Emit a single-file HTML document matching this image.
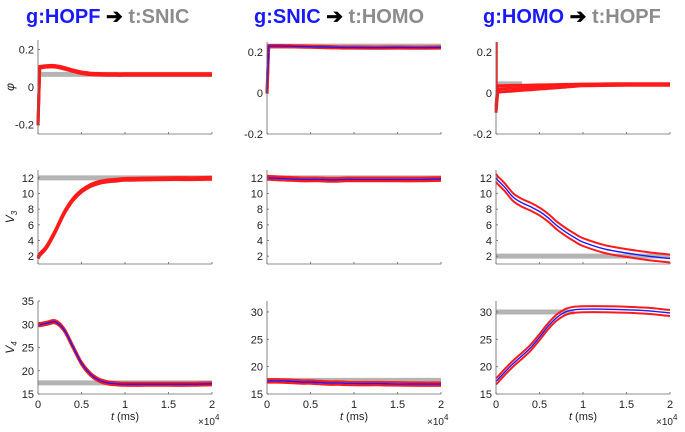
<!DOCTYPE html>
<html><head><meta charset="utf-8"><style>
body{margin:0;background:#fff;width:685px;height:427px;overflow:hidden}
svg text{font-family:"Liberation Sans",sans-serif}
</style></head><body>
<svg id="chart" width="685" height="427" viewBox="0 0 685 427" xmlns="http://www.w3.org/2000/svg">
<g font-size="20" font-weight="bold">
<text x="26" y="23"><tspan fill="#1a1aff">g:HOPF</tspan><tspan fill="#000"> ➔ </tspan><tspan fill="#8c8c8c">t:SNIC</tspan></text>
<text x="254" y="23"><tspan fill="#1a1aff">g:SNIC</tspan><tspan fill="#000"> ➔ </tspan><tspan fill="#8c8c8c">t:HOMO</tspan></text>
<text x="483" y="23"><tspan fill="#1a1aff">g:HOMO</tspan><tspan fill="#000"> ➔ </tspan><tspan fill="#8c8c8c">t:HOPF</tspan></text>
</g>
</svg>
<script>
const T = [0,0.02,0.1,0.2,0.3,0.4,0.5,0.6,0.7,0.8,0.9,1.0,1.25,1.5,1.75,2.0];
const phi1 = [-0.2,0.105,0.11,0.11,0.1,0.087,0.076,0.07,0.068,0.067,0.066,0.066,0.066,0.066,0.066,0.066];
const phi2 = [0,0.23,0.23,0.23,0.229,0.228,0.227,0.226,0.225,0.224,0.223,0.223,0.222,0.223,0.222,0.223];
const phi3 = [-0.08,0.02,0.022,0.024,0.026,0.028,0.03,0.032,0.034,0.036,0.038,0.04,0.041,0.042,0.042,0.042];
const phi3Spike = [-0.08,0.25];
const v3a = [1.8,2.2,3.2,5.2,7.5,9.2,10.3,11.0,11.4,11.6,11.7,11.8,11.85,11.9,11.9,11.95];
const v3b = [12,12,11.95,11.9,11.85,11.8,11.8,11.8,11.75,11.75,11.8,11.8,11.8,11.8,11.8,11.85];
const v3c = [12,11.7,10.8,9.5,8.8,8.3,7.7,6.9,5.9,5.1,4.4,3.8,2.9,2.4,2.0,1.7];
const v4a = [30,29.9,30.2,30.5,28.8,25.2,21.6,19.3,18.0,17.4,17.2,17.1,17.1,17.1,17.1,17.2];
const v4b = [17.4,17.4,17.4,17.35,17.3,17.2,17.2,17.1,17.0,17.0,16.95,16.9,16.9,16.85,16.8,16.8];
const v4c = [17.3,17.6,19.0,20.6,22.0,23.5,25.4,27.4,29.0,30.0,30.4,30.5,30.5,30.4,30.2,29.8];
const xTicks = [0,0.5,1,1.5,2];
const xTickLabels = ["0","0.5","1","1.5","2"];

const svg = document.getElementById('chart');
const NS = 'http://www.w3.org/2000/svg';
function mk(tag, attrs, parent){const e=document.createElementNS(NS,tag);for(const k in attrs)e.setAttribute(k,attrs[k]);(parent||svg).appendChild(e);return e;}

const cols=[{x0:38,x1:212},{x0:267,x1:441},{x0:496,x1:670}];
const rows=[
 {ylab:'φ', panels:[
   {ymin:-0.25,ymax:0.25,top:40,bot:134,ticks:[-0.2,0,0.2],labels:['-0.2','0','0.2'],data:phi1,ref:0.067,refEnd:2,hw:0.004,sw:3,hideBlue:true},
   {ymin:-0.2,ymax:0.25,top:42,bot:134,ticks:[-0.2,0,0.2],labels:['-0.2','0','0.2'],data:phi2,ref:0.23,refEnd:2,hw:0.003,sw:3},
   {ymin:-0.2,ymax:0.25,top:42,bot:134,ticks:[-0.2,0,0.2],labels:['-0.2','0','0.2'],data:phi3,ref:0.045,refEnd:0.3,hw:0.004,sw:3,noisy:true,hideBlue:true}]},
 {ylab:'V', sub:'3', panels:[
   {ymin:1,ymax:13,top:170,bot:264,ticks:[2,4,6,8,10,12],labels:['2','4','6','8','10','12'],data:v3a,ref:12,refEnd:2,hw:0.12,sw:3,hideBlue:true},
   {ymin:1,ymax:13,top:170,bot:264,ticks:[2,4,6,8,10,12],labels:['2','4','6','8','10','12'],data:v3b,ref:12,refEnd:2,hw:0.22,sw:2.4},
   {ymin:1,ymax:13,top:170,bot:264,ticks:[2,4,6,8,10,12],labels:['2','4','6','8','10','12'],data:v3c,ref:2,refEnd:2,hw:0.5,sw:2}]},
 {ylab:'V', sub:'4', panels:[
   {ymin:15,ymax:35,top:301,bot:394,ticks:[15,20,25,30,35],labels:['15','20','25','30','35'],data:v4a,ref:17.4,refEnd:2,hw:0.3,sw:2.4},
   {ymin:15,ymax:32,top:301,bot:394,ticks:[15,20,25,30],labels:['15','20','25','30'],data:v4b,ref:17.5,refEnd:2,hw:0.3,sw:2.2},
   {ymin:15,ymax:32,top:301,bot:394,ticks:[15,20,25,30],labels:['15','20','25','30'],data:v4c,ref:30,refEnd:0.9,hw:0.55,sw:2}]}
];

function smooth(pts){
  let d='M'+pts[0][0].toFixed(1)+','+pts[0][1].toFixed(1)+'L'+pts[1][0].toFixed(1)+','+pts[1][1].toFixed(1);
  for(let i=1;i<pts.length-1;i++){
    const p0=pts[Math.max(i-1,1)],p1=pts[i],p2=pts[i+1],p3=pts[Math.min(i+2,pts.length-1)];
    const c1=[p1[0]+(p2[0]-p0[0])/6,p1[1]+(p2[1]-p0[1])/6];
    const c2=[p2[0]-(p3[0]-p1[0])/6,p2[1]-(p3[1]-p1[1])/6];
    d+='C'+c1[0].toFixed(1)+','+c1[1].toFixed(1)+' '+c2[0].toFixed(1)+','+c2[1].toFixed(1)+' '+p2[0].toFixed(1)+','+p2[1].toFixed(1);
  }
  return d;
}

rows.forEach((row,ri)=>{
  row.panels.forEach((p,ci)=>{
    const c=cols[ci];
    const g=mk('g',{});
    
    
    const xs=v=>c.x0+(v/2)*(c.x1-c.x0);
    const ys=v=>p.bot-(v-p.ymin)/(p.ymax-p.ymin)*(p.bot-p.top);
    const hwAt=(i)=>p.noisy? p.hw*(1+3*Math.max(0,1-T[i])) : p.hw;
    const line=(arr,sgn)=>smooth(T.map((t,i)=>[xs(t),ys(arr[i]+sgn*hwAt(i))]));
    const ref=mk('line',{x1:xs(0),x2:xs(p.refEnd),y1:ys(p.ref),y2:ys(p.ref),stroke:'#b4b4b4','stroke-width':5},g);
    
    
    if(p.noisy){
      const sp=mk('line',{x1:xs(0)+1,x2:xs(0)+1,y1:ys(phi3Spike[0]),y2:ys(phi3Spike[1]),stroke:'#ff1a1a','stroke-width':1.5},g);
      
      
    }
    const mean=mk('path',{d:line(p.data,0),fill:'none',stroke:'#1a1aff','stroke-width':1.4},g);
    
    
    const up=mk('path',{d:line(p.data,1),fill:'none',stroke:'#ff1a1a','stroke-width':p.sw,'stroke-linejoin':'round'},g);
    
    
    const lo=mk('path',{d:line(p.data,-1),fill:'none',stroke:'#ff1a1a','stroke-width':p.sw,'stroke-linejoin':'round'},g);
    
    
    if(!p.hideBlue){ g.appendChild(mean); }
    else { mean.setAttribute('stroke','#ff1a1a'); mean.setAttribute('stroke-width',3); }
    const ya=mk('line',{x1:c.x0,x2:c.x0,y1:p.top,y2:p.bot,stroke:'#666','stroke-width':0.8},g);
    
    
    const xa=mk('line',{x1:c.x0,x2:c.x1,y1:p.bot,y2:p.bot,stroke:'#666','stroke-width':0.8},g);
    
    
    p.ticks.forEach((tv,i)=>{
      mk('line',{x1:c.x0,x2:c.x0+2,y1:ys(tv),y2:ys(tv),stroke:'#666','stroke-width':0.8},g);
      const tl=mk('text',{x:c.x0-4,y:ys(tv)+4,'text-anchor':'end','font-size':11,fill:'#222'},g);
      tl.textContent=p.labels[i];
      
      
    });
    xTicks.forEach((tv,i)=>{
      mk('line',{x1:xs(tv),x2:xs(tv),y1:p.bot,y2:p.bot-2,stroke:'#666','stroke-width':0.8},g);
      if(ri===2){
        const tl=mk('text',{x:xs(tv),y:p.bot+14,'text-anchor':'middle','font-size':11,fill:'#222'},g);
        tl.textContent=xTickLabels[i];
        
        
      }
    });
    if(ri===2){
      const xl=mk('text',{x:(c.x0+c.x1)/2,y:420,'text-anchor':'middle','font-size':11,fill:'#222','font-family':'Liberation Serif'},g);
      xl.innerHTML='<tspan font-style="italic">t</tspan> (ms)';
      
      
      const ex=mk('text',{x:c.x1-14,y:425,'font-size':10,fill:'#222'},g);
      ex.innerHTML='×10<tspan dy="-5" font-size="8">4</tspan>';
      
      
    }
    if(ci===0){
      const cy=(p.top+p.bot)/2;
      const yl=mk('text',{x:0,y:0,transform:'translate(14,'+cy+') rotate(-90)','text-anchor':'middle','font-size':12,'font-style':'italic',fill:'#222','font-family':'Liberation Serif'},g);
      yl.innerHTML=row.sub?row.ylab+'<tspan font-size="8" dy="3">'+row.sub+'</tspan>':row.ylab;
      
      
    }
  });
});
</script>
</body></html>
